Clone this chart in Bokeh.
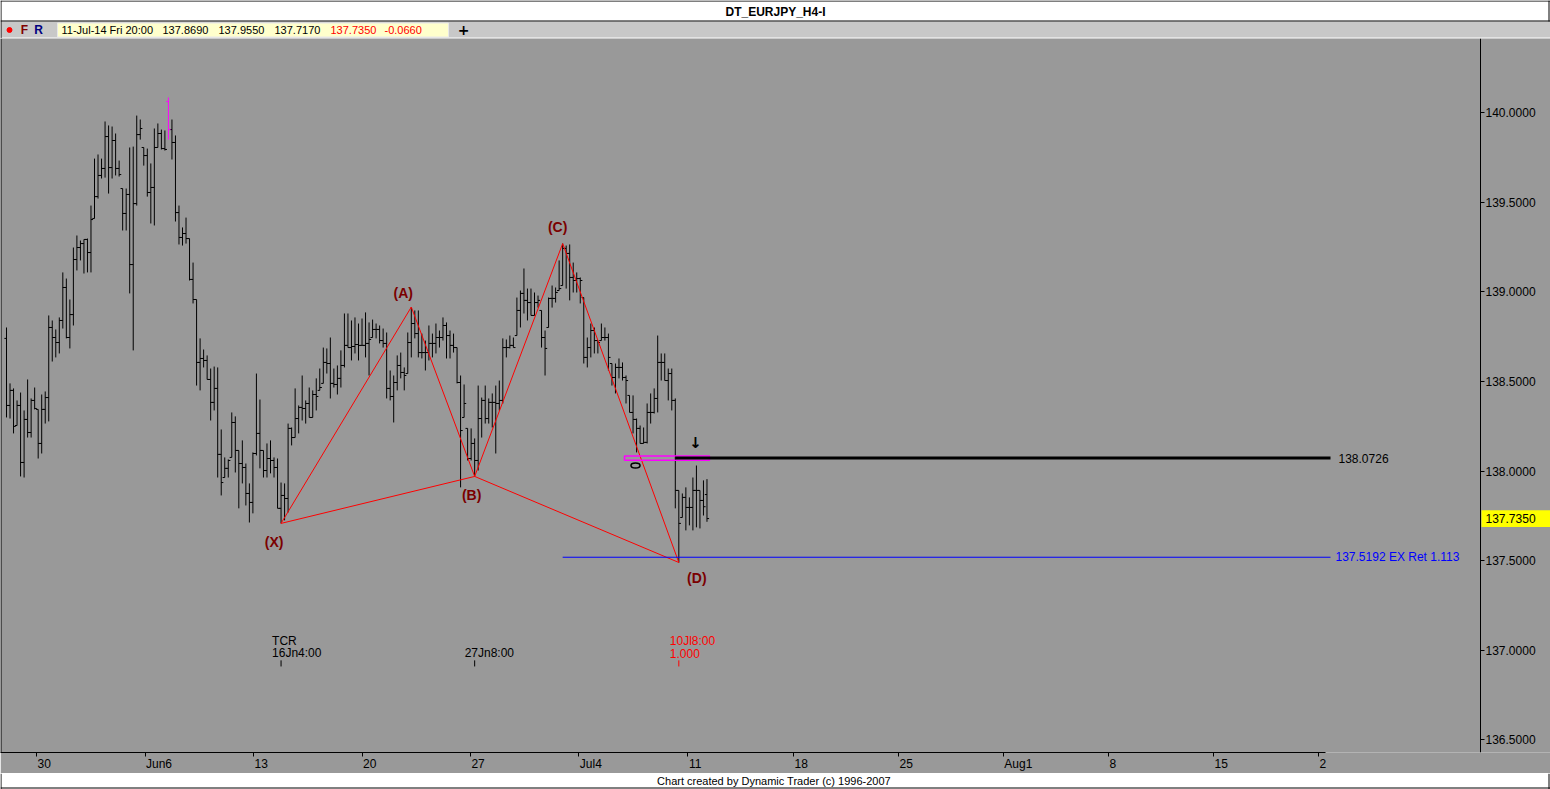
from bokeh.plotting import figure
from bokeh.models import (Range1d, LinearAxis, FixedTicker, ColumnDataSource,
                          NumeralTickFormatter, CustomJSTickFormatter, Span)
from bokeh.layouts import column
from bokeh.embed import file_html
from bokeh.resources import INLINE
from bokeh.core.properties import value

# ---------------------------------------------------------------- data
symbol = "DT_EURJPY_H4-I"
last_bar_time = "11-Jul-14 Fri 20:00"
footer_text = "Chart created by Dynamic Trader  (c) 1996-2007"

opens = [
    138.740, 138.366, 138.450, 138.254, 138.366, 138.048, 138.288, 138.215, 138.394, 138.344,
    138.154, 138.344, 138.410, 138.801, 138.745, 138.717, 138.840, 139.024, 138.745, 138.873,
    139.180, 139.247, 139.269, 139.292, 139.219, 139.409, 139.531, 139.649, 139.688, 139.866,
    139.693, 139.844, 139.688, 139.576, 139.437, 139.543, 139.152, 139.492, 139.877, 139.805,
    139.760,
    139.554, 139.582, 139.805, 139.883, 139.799, 140.061, 139.905, 139.833, 139.442, 139.303,
    139.325, 139.297, 139.069, 138.957, 138.606, 138.628, 138.617, 138.511, 138.383, 138.461,
    138.093, 137.964, 138.015, 138.076, 138.271, 138.115, 138.042, 138.020, 137.875, 137.825,
    138.098, 138.210, 138.115, 138.003, 138.070, 138.059, 138.020, 137.792, 137.864, 137.847,
    138.238,
    138.187, 138.293, 138.355, 138.349, 138.377, 138.299, 138.427, 138.450, 138.489, 138.606,
    138.600, 138.489, 138.483, 138.517, 138.589, 138.701, 138.689, 138.695, 138.706, 138.701,
    138.701, 138.712, 138.745, 138.790, 138.790, 138.728, 138.712, 138.461, 138.416, 138.494,
    138.589, 138.550, 138.544, 138.717, 138.823, 138.767, 138.661, 138.661, 138.661, 138.712,
    138.712, 138.745,
    138.745, 138.812, 138.756, 138.701, 138.689, 138.494, 138.299, 138.238, 138.070, 138.154,
    138.059, 138.293, 138.394, 138.293, 138.383, 138.383, 138.377, 138.394, 138.689, 138.689,
    138.701, 138.756, 138.896, 138.991, 138.952, 138.940, 138.868, 138.940, 138.896, 138.745,
    138.801, 138.963, 138.963, 139.007, 139.035, 139.242, 139.214, 139.080, 139.063, 139.074,
    138.968,
    138.634, 138.689, 138.784, 138.728, 138.728, 138.745, 138.745, 138.600, 138.522, 138.578,
    138.578, 138.522, 138.422, 138.327, 138.288, 138.238, 138.154, 138.160, 138.327, 138.327,
    138.405, 138.606, 138.606, 138.505, 138.544, 138.394, 137.892, 137.741, 137.853, 137.797,
    137.797, 137.892, 137.892, 137.836, 137.869,
]
highs = [
    138.801, 138.489, 138.461, 138.394, 138.438, 138.338, 138.511, 138.405, 138.466, 138.344,
    138.427, 138.444, 138.868, 138.840, 138.790, 138.857, 139.108, 139.074, 138.957, 139.247,
    139.314, 139.286, 139.292, 139.297, 139.481, 139.743, 139.766, 139.743, 139.950, 139.928,
    139.922, 139.883, 139.732, 139.576, 139.576, 139.805, 139.810, 139.983, 139.961, 139.805,
    139.799,
    139.716, 139.911, 139.939, 139.905, 139.900, 140.084, 139.961, 139.872, 139.481, 139.359,
    139.414, 139.297, 139.163, 138.957, 138.740, 138.678, 138.645, 138.572, 138.583, 138.578,
    138.232, 138.076, 138.065, 138.327, 138.305, 138.115, 138.171, 138.042, 137.931, 138.104,
    138.544, 138.399, 138.115, 138.154, 138.171, 138.076, 138.070, 137.936, 137.931, 138.265,
    138.243,
    138.461, 138.366, 138.533, 138.394, 138.466, 138.450, 138.517, 138.572, 138.689, 138.684,
    138.745, 138.572, 138.589, 138.673, 138.879, 138.879, 138.840, 138.857, 138.823, 138.851,
    138.885, 138.829, 138.845, 138.823, 138.812, 138.795, 138.773, 138.561, 138.533, 138.645,
    138.661, 138.578, 138.773, 138.915, 138.896, 138.896, 138.767, 138.728, 138.812, 138.767,
    138.823, 138.784,
    138.857, 138.829, 138.784, 138.767, 138.689, 138.533, 138.483, 138.238, 138.238, 138.182,
    138.477, 138.410, 138.477, 138.405, 138.433, 138.477, 138.505, 138.740, 138.734, 138.756,
    138.745, 138.968, 139.007, 139.130, 139.018, 139.018, 138.996, 138.979, 138.896, 138.784,
    138.968, 139.035, 139.024, 139.175, 139.269, 139.258, 139.264, 139.163, 139.108, 139.080,
    138.968,
    138.745, 138.823, 138.801, 138.728, 138.823, 138.801, 138.767, 138.600, 138.600, 138.628,
    138.606, 138.533, 138.422, 138.422, 138.293, 138.254, 138.243, 138.377, 138.433, 138.461,
    138.756, 138.656, 138.656, 138.572, 138.572, 138.405, 137.892, 137.875, 137.909, 137.853,
    137.964, 138.031, 137.892, 137.948, 137.955,
]
lows = [
    138.299, 138.293, 138.210, 138.254, 137.970, 137.964, 138.187, 138.187, 138.344, 138.070,
    138.098, 138.265, 138.277, 138.611, 138.634, 138.656, 138.795, 138.740, 138.684, 138.812,
    139.119, 139.175, 139.102, 139.108, 139.108, 139.409, 139.520, 139.632, 139.637, 139.548,
    139.632, 139.649, 139.643, 139.342, 139.342, 138.991, 138.673, 139.481, 139.849, 139.704,
    139.531,
    139.381, 139.370, 139.805, 139.794, 139.788, 139.849, 139.738, 139.392, 139.264, 139.258,
    139.269, 139.063, 138.935, 138.477, 138.450, 138.578, 138.511, 138.282, 138.338, 137.964,
    137.864, 137.964, 137.964, 138.076, 137.992, 137.792, 137.931, 137.808, 137.713, 137.764,
    138.087, 138.015, 137.964, 137.964, 137.987, 137.964, 137.792, 137.708, 137.725, 137.769,
    138.143,
    138.187, 138.210, 138.282, 138.265, 138.299, 138.299, 138.338, 138.450, 138.489, 138.544,
    138.405, 138.466, 138.427, 138.466, 138.578, 138.689, 138.617, 138.656, 138.617, 138.701,
    138.634, 138.533, 138.745, 138.740, 138.712, 138.689, 138.405, 138.394, 138.271, 138.450,
    138.517, 138.450, 138.544, 138.634, 138.740, 138.634, 138.628, 138.561, 138.617, 138.634,
    138.656, 138.689,
    138.728, 138.628, 138.628, 138.661, 138.489, 137.909, 138.299, 138.059, 138.059, 137.970,
    138.003, 138.187, 138.265, 138.265, 138.243, 138.098, 138.338, 138.377, 138.634, 138.684,
    138.689, 138.756, 138.801, 138.879, 138.840, 138.868, 138.868, 138.912, 138.689, 138.533,
    138.801, 138.912, 138.940, 139.007, 139.035, 139.018, 138.952, 138.996, 138.996, 138.935,
    138.600,
    138.578, 138.634, 138.656, 138.656, 138.728, 138.728, 138.561, 138.477, 138.433, 138.517,
    138.505, 138.377, 138.327, 138.210, 138.104, 138.154, 138.154, 138.154, 138.265, 138.321,
    138.327, 138.505, 138.505, 138.394, 138.338, 137.792, 137.490, 137.741, 137.669, 137.697,
    137.669, 137.686, 137.680, 137.752, 137.717,
]
closes = [
    138.366, 138.450, 138.249, 138.366, 138.048, 138.288, 138.215, 138.394, 138.349, 138.154,
    138.344, 138.410, 138.801, 138.745, 138.717, 138.840, 139.024, 138.745, 138.873, 139.180,
    139.247, 139.269, 139.292, 139.219, 139.403, 139.531, 139.649, 139.688, 139.866, 139.693,
    139.844, 139.688, 139.654, 139.437, 139.543, 139.152, 139.492, 139.877, 139.911, 139.760,
    139.554,
    139.582, 139.805, 139.883, 139.799, 139.794, 139.905, 139.833, 139.442, 139.303, 139.325,
    139.297, 139.069, 138.957, 138.606, 138.628, 138.617, 138.511, 138.383, 138.461, 138.093,
    137.936, 138.015, 138.059, 138.271, 138.115, 138.042, 138.020, 137.875, 137.825, 138.098,
    138.210, 138.115, 138.003, 138.070, 138.059, 138.020, 137.792, 137.864, 137.847, 138.238,
    138.187,
    138.293, 138.355, 138.349, 138.377, 138.299, 138.427, 138.416, 138.466, 138.606, 138.600,
    138.489, 138.483, 138.517, 138.589, 138.701, 138.689, 138.695, 138.706, 138.701, 138.701,
    138.712, 138.734, 138.790, 138.790, 138.728, 138.712, 138.461, 138.416, 138.494, 138.589,
    138.550, 138.533, 138.717, 138.823, 138.767, 138.661, 138.661, 138.661, 138.712, 138.712,
    138.745, 138.745,
    138.812, 138.756, 138.701, 138.689, 138.494, 138.226, 138.377, 138.070, 138.154, 138.059,
    138.293, 138.394, 138.293, 138.383, 138.383, 138.377, 138.394, 138.689, 138.689, 138.701,
    138.689, 138.896, 138.991, 138.952, 138.940, 138.868, 138.940, 138.952, 138.745, 138.684,
    138.963, 138.963, 138.996, 139.018, 139.242, 139.214, 139.080, 139.063, 139.074, 139.063,
    138.634,
    138.689, 138.784, 138.728, 138.717, 138.745, 138.745, 138.634, 138.522, 138.578, 138.578,
    138.522, 138.505, 138.327, 138.288, 138.238, 138.154, 138.160, 138.327, 138.327, 138.405,
    138.606, 138.606, 138.505, 138.544, 138.394, 137.892, 137.708, 137.853, 137.797, 137.797,
    137.892, 137.892, 137.836, 137.801, 137.735,
]
assert len(opens) == len(highs) == len(lows) == len(closes)

price_ticks = [136.5, 137.0, 137.5, 138.0, 138.5, 139.0, 139.5, 140.0]
date_labels = ["30", "Jun6", "13", "20", "27", "Jul4", "11", "18", "25", "Aug1", "8", "15", "2"]

pattern_names = ["(X)", "(A)", "(B)", "(C)", "(D)"]
pattern_bars = [78, 115, 133, 158, 191]
pattern_prices = [137.708, 138.915, 137.970, 139.269, 137.490]

level_black = 138.0726
level_blue = 137.5192
level_blue_note = "EX Ret 1.113"

tcr_bars = [78, 133, 191]
tcr_top = ["TCR", "", "10Jl8:00"]
tcr_bottom = ["16Jn4:00", "27Jn8:00", "1.000"]

# ---------------------------------------------------------------- layout / style
W = 1550
HEAD_H = 38
FOOT_H = 16
MAIN_H = 789 - HEAD_H - FOOT_H
BAR_PX = 3.52              # pixels per bar
BAR0_PX = 6.0              # pixel of first bar
X0 = (0 - BAR0_PX) / BAR_PX
X1 = (W - BAR0_PX) / BAR_PX
X_AXIS = (1480 - BAR0_PX) / BAR_PX      # where the price scale sits
Y0, Y1 = 136.430, 140.413
FONT = "Liberation Sans"
BG = "#999999"
MAROON = "#7b0000"
RED = "#ff0000"

# date tick positions in bar units (31 bars per past week, 30 per projected week)
date_pos = [8.52, 39.35, 70.2, 101.0, 131.8, 162.6, 193.5, 223.6, 253.4, 283.2, 313.1, 342.9, 372.7]
AXIS_END = 374.7
CHAR_W = {"J": 6.0, "l": 2.7, "A": 8.0}
label_pos = [t + (sum(CHAR_W.get(c, 6.67) for c in s) / 2 + 1) / BAR_PX
             for t, s in zip(date_pos, date_labels)]

# ---------------------------------------------------------------- header
h = figure(width=W, height=HEAD_H, x_range=Range1d(0, W), y_range=Range1d(HEAD_H, 0),
           output_backend="svg", toolbar_location=None, x_axis_type=None, y_axis_type=None,
           min_border=0, background_fill_color="white", border_fill_color="white",
           outline_line_color=None)
h.quad(left=[0], right=[W], top=[21], bottom=[37], fill_color="#c8c8c8", line_color=None)
h.segment(x0=[0, 0, 0.5, W - 1.5], y0=[0.5, 20.5, 0, 0], x1=[W, W, 0.5, W - 1.5],
          y1=[0.5, 20.5, HEAD_H, 21], line_color="black", line_width=1)
h.text(x=[W / 2], y=[11], text=[symbol], text_align="center", text_baseline="middle",
       text_font=value(FONT), text_font_style="bold", text_font_size="12px", text_color="black")
h.scatter(x=[9], y=[29.5], size=5, color=RED)
h.text(x=[24, 38], y=[29.5, 29.5], text=["F", "R"], text_color=["#800000", "#000080"],
       text_align="center", text_baseline="middle", text_font=value(FONT),
       text_font_style="bold", text_font_size="12px")
h.quad(left=[57], right=[448], top=[22.5], bottom=[36.5], fill_color="#ffffcc", line_color="#e8e8e8")
head_vals = [last_bar_time, f"{opens[-1]:.4f}", f"{highs[-1]:.4f}", f"{lows[-1]:.4f}",
             f"{closes[-1]:.4f}", f"{closes[-1] - closes[-2]:.4f}"]
h.text(x=[61, 162, 218, 274, 330, 384], y=[29.5] * 6, text=head_vals,
       text_color=["black", "black", "black", "black", RED, RED],
       text_align="left", text_baseline="middle", text_font=value(FONT), text_font_size="11px")
h.text(x=[463], y=[29.5], text=["+"], text_align="center", text_baseline="middle",
       text_font=value("DejaVu Sans"), text_font_style="bold", text_font_size="14px", text_color="black")

# ---------------------------------------------------------------- main chart
p = figure(width=W, height=MAIN_H, x_range=Range1d(X0, X1), y_range=Range1d(Y0, Y1),
           output_backend="svg", toolbar_location=None, x_axis_type=None, y_axis_type=None,
           min_border_left=0, min_border_right=0, min_border_top=0, min_border_bottom=0,
           background_fill_color=BG, border_fill_color=BG, outline_line_color=None)

# current price tag (drawn first so the scale lies on top)
TAG_H = 0.047
p.quad(left=[X_AXIS + 1 / BAR_PX], right=[X1], bottom=[closes[-1] - TAG_H], top=[closes[-1] + TAG_H],
       fill_color="#ffff00", line_color=None)
p.text(x=[X_AXIS], y=[closes[-1]], text=[f"{closes[-1]:.4f}"], x_offset=5,
       text_align="left", text_baseline="middle", text_font=value(FONT),
       text_font_size="12px", text_color="black")

yax = LinearAxis(ticker=FixedTicker(ticks=price_ticks, minor_ticks=[]),
                 formatter=NumeralTickFormatter(format="0.0000"),
                 fixed_location=X_AXIS,
                 axis_line_color="black", major_tick_line_color="black",
                 major_tick_out=4, major_tick_in=0, minor_tick_out=0, minor_tick_in=0,
                 major_label_standoff=1, major_label_text_font=FONT,
                 major_label_text_font_size="12px", major_label_text_color="black")
p.add_layout(yax, "right")

xax_ticks = LinearAxis(ticker=FixedTicker(ticks=date_pos, minor_ticks=[]),
                       formatter=CustomJSTickFormatter(code="return '';"),
                       bounds=(X0, AXIS_END), axis_line_color="black", major_tick_line_color="black",
                       major_tick_out=4, major_tick_in=0, minor_tick_out=0, minor_tick_in=0,
                       major_label_standoff=0, major_label_text_font_size="1px")
p.add_layout(xax_ticks, "below")
xax_labels = LinearAxis(ticker=FixedTicker(ticks=label_pos, minor_ticks=[]),
                        formatter=CustomJSTickFormatter(
                            args=dict(labels=date_labels, pos=label_pos),
                            code="""
let best = 0, d = Infinity;
for (let i = 0; i < pos.length; i++) {
  const e = Math.abs(pos[i] - tick);
  if (e < d) { d = e; best = i; }
}
return labels[best];"""),
                        axis_line_color=None, major_tick_line_color=None,
                        major_tick_out=0, major_tick_in=0, minor_tick_out=0, minor_tick_in=0,
                        major_label_standoff=0, major_label_text_font=FONT,
                        major_label_text_font_size="12px", major_label_text_color="black")
p.add_layout(xax_labels, "below")

p.add_layout(Span(location=X0 + 0.5 / BAR_PX, dimension="height", line_color="black", line_width=1))

# OHLC bars
idx = list(range(len(closes)))
peak = highs.index(max(highs))
TICK = 0.6
src = ColumnDataSource(dict(
    x=idx, o=opens, h=highs, l=lows, c=closes,
    xl=[i - TICK for i in idx], xr=[i + TICK for i in idx],
    color=["#ff00ff" if i == peak else "black" for i in idx],
))
p.segment(x0="x", y0="l", x1="x", y1="h", line_color="color", line_width=1, source=src)
p.segment(x0="xl", y0="o", x1="x", y1="o", line_color="color", line_width=1, source=src)
p.segment(x0="x", y0="c", x1="xr", y1="c", line_color="color", line_width=1, source=src)

# XABCD pattern
p.line(x=pattern_bars, y=pattern_prices, line_color=RED, line_width=1)
p.segment(x0=[pattern_bars[0], pattern_bars[2]], y0=[pattern_prices[0], pattern_prices[2]],
          x1=[pattern_bars[2], pattern_bars[4]], y1=[pattern_prices[2], pattern_prices[4]],
          line_color=RED, line_width=1)
p.text(x=pattern_bars, y=pattern_prices, text=pattern_names,
       x_offset=[-7, -8, -3, -5, 18], y_offset=[19, -14, 19, -17, 16],
       text_align="center", text_baseline="middle", text_font=value(FONT),
       text_font_style="bold", text_font_size="14px", text_color=MAROON)

# horizontal levels
LINE_START = 190
LINE_END = (1330 - BAR0_PX) / BAR_PX
p.quad(left=[(624 - BAR0_PX) / BAR_PX], right=[(709 - BAR0_PX) / BAR_PX],
       bottom=[level_black - 0.012], top=[level_black + 0.012],
       fill_color=None, line_color="#ff00ff", line_width=1.5)
p.segment(x0=[LINE_START], y0=[level_black], x1=[LINE_END], y1=[level_black],
          line_color="black", line_width=3)
p.segment(x0=[pattern_bars[3]], y0=[level_blue], x1=[LINE_END], y1=[level_blue],
          line_color="#0000ff", line_width=1)
p.text(x=[LINE_END], y=[level_black], text=[f"{level_black:.4f}"], x_offset=8,
       text_align="left", text_baseline="middle", text_font=value(FONT),
       text_font_size="12px", text_color="black")
p.text(x=[LINE_END], y=[level_blue], text=[f"{level_blue:.4f} {level_blue_note}"], x_offset=5,
       text_align="left", text_baseline="middle", text_font=value(FONT),
       text_font_size="12px", text_color="#0000ff")
p.text(x=[(695 - BAR0_PX) / BAR_PX], y=[138.154], text=["\u2193"], text_align="center",
       text_baseline="middle", text_font=value("DejaVu Sans"), text_font_style="bold",
       text_font_size="15px", text_color="black")
p.ellipse(x=[(635 - BAR0_PX) / BAR_PX], y=[138.031], width=9, height=5,
          width_units="screen", height_units="screen",
          fill_color=None, line_color="black", line_width=1.5)

# time cycle markers
TOP_Y, BOT_Y = 137.050, 136.983
tcr_colors = ["black", "black", RED]
tt = [(b, s, c) for b, s, c in zip(tcr_bars, tcr_top, tcr_colors) if s]
p.text(x=[t[0] for t in tt], y=[TOP_Y] * len(tt), text=[t[1] for t in tt], x_offset=-9,
       text_align="left", text_baseline="middle", text_font=value(FONT), text_font_size="12px",
       text_color=[t[2] for t in tt])
p.text(x=tcr_bars, y=[BOT_Y] * 3, text=tcr_bottom, x_offset=[-9, -10, -9],
       text_align="left", text_baseline="middle", text_font=value(FONT), text_font_size="12px",
       text_color=tcr_colors)
p.segment(x0=tcr_bars, y0=[136.944] * 3, x1=tcr_bars, y1=[136.910] * 3,
          line_color=tcr_colors, line_width=1)

# ---------------------------------------------------------------- footer
f = figure(width=W, height=FOOT_H, x_range=Range1d(0, W), y_range=Range1d(FOOT_H, 0),
           output_backend="svg", toolbar_location=None, x_axis_type=None, y_axis_type=None,
           min_border=0, background_fill_color="white", border_fill_color="white",
           outline_line_color=None)
f.segment(x0=[0, 0.5, W - 1.5], y0=[FOOT_H - 1.5, 0, 0], x1=[W, 0.5, W - 1.5],
          y1=[FOOT_H - 1.5, FOOT_H, FOOT_H], line_color="black", line_width=1)
f.text(x=[W / 2], y=[7], text=[footer_text], text_align="center", text_baseline="middle",
       text_font=value(FONT), text_font_size="11px", text_color="black")

layout = column(h, p, f, spacing=0)
open("out.html", "w").write(file_html(layout, INLINE))
